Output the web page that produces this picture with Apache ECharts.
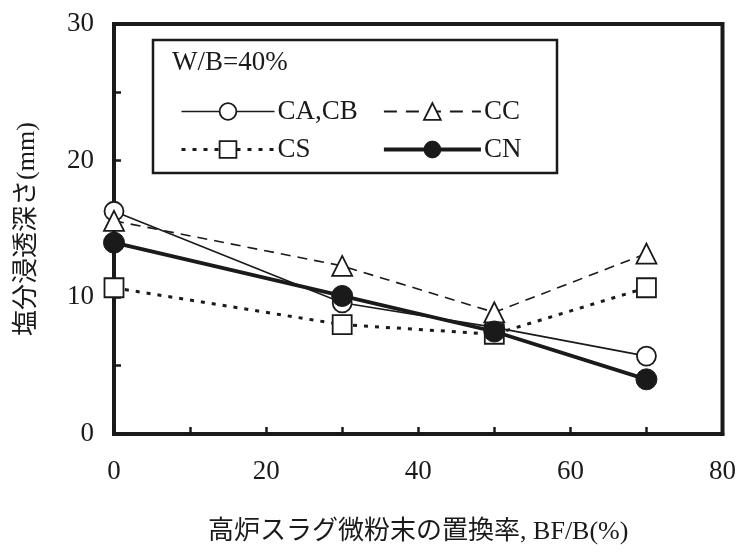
<!DOCTYPE html>
<html>
<head>
<meta charset="utf-8">
<script src="https://cdn.jsdelivr.net/npm/echarts@6/dist/echarts.min.js"></script>
<style>html,body{margin:0;padding:0;background:#fff}#c{width:739px;height:552px}</style>
</head>
<body>
<div id="c"></div>
<script>
const xValues = [0, 30, 50, 70];
const seriesNames = ['CA,CB', 'CC', 'CS', 'CN'];
const caCb = [16.3, 9.6, 7.8, 5.7];
const cc = [15.6, 12.3, 8.9, 13.2];
const cs = [10.7, 8.0, 7.3, 10.7];
const cn = [14.0, 10.1, 7.5, 4.0];
const xTickLabels = [0, 20, 40, 60, 80];
const yTickLabels = [0, 10, 20, 30];
const legendTitle = 'W/B=40%';
const xTitle = '高炉スラグ微粉末の置換率, BF/B(%)';
const yTitle = '塩分浸透深さ(mm)';

const FONT = '"Liberation Serif", "Times New Roman", "Noto Sans CJK JP", serif';
const INK = '#1a1a1a';
const pairs = v => xValues.map((x, i) => [x, v[i]]);

const styles = {
  'CA,CB': { line: { color: INK, width: 1.6, type: 'solid' }, item: { color: '#fff', borderColor: INK, borderWidth: 1.8 } },
  'CC': { line: { color: INK, width: 1.6, type: [10, 7] }, item: { color: '#fff', borderColor: INK, borderWidth: 1.8 } },
  'CS': { line: { color: INK, width: 3, type: [4, 7] }, item: { color: '#fff', borderColor: INK, borderWidth: 1.8 } },
  'CN': { line: { color: INK, width: 3.8, type: 'solid' }, item: { color: INK, borderColor: INK, borderWidth: 1 } }
};
const legendDash = { 'CC': [13, 9] };
const legendItem = n => ({ name: n,
  lineStyle: Object.assign({}, styles[n].line, legendDash[n] ? { type: legendDash[n], width: 2 } : {}),
  itemStyle: styles[n].item });

const chart = echarts.init(document.getElementById('c'));
chart.setOption({
  animation: false,
  backgroundColor: '#fff',
  grid: { left: 114, right: 15, top: 24, bottom: 118, show: true, borderColor: INK, borderWidth: 4, backgroundColor: 'transparent' },
  xAxis: {
    type: 'value', min: 0, max: 80, interval: 10,
    axisLine: { show: true, lineStyle: { color: INK, width: 4 } },
    axisTick: { show: true, inside: true, length: 7, lineStyle: { color: INK, width: 2.5 } },
    splitLine: { show: false },
    axisLabel: { color: INK, fontFamily: FONT, fontSize: 27, margin: 24,
      formatter: v => xTickLabels.indexOf(v) >= 0 ? String(v) : '' },
    name: xTitle, nameLocation: 'middle', nameGap: 85,
    nameTextStyle: { color: INK, fontFamily: FONT, fontSize: 26 }
  },
  yAxis: {
    type: 'value', min: 0, max: 30, interval: 5,
    axisLine: { show: true, lineStyle: { color: INK, width: 4 } },
    axisTick: { show: true, inside: true, length: 7, lineStyle: { color: INK, width: 2.5 } },
    splitLine: { show: false },
    axisLabel: { color: INK, fontFamily: FONT, fontSize: 27, margin: 20,
      formatter: v => yTickLabels.indexOf(v) >= 0 ? String(v) : '' },
    name: yTitle, nameLocation: 'middle', nameGap: 74, nameRotate: 90,
    nameTextStyle: { color: INK, fontFamily: FONT, fontSize: 26 }
  },
  legend: [
    { data: ['CA,CB', 'CS'].map(legendItem), orient: 'vertical', left: 175, top: 93, itemWidth: 93, itemHeight: 21, itemGap: 11,
      textStyle: { color: INK, fontFamily: FONT, fontSize: 27, padding: [0, 0, 0, -2] }, selectedMode: false },
    { data: ['CC', 'CN'].map(legendItem), orient: 'vertical', left: 377, top: 93, itemWidth: 97, itemHeight: 21, itemGap: 11,
      textStyle: { color: INK, fontFamily: FONT, fontSize: 27, padding: [0, 0, 0, -2] }, selectedMode: false }
  ],
  graphic: [
    { type: 'rect', shape: { x: 153, y: 40, width: 404, height: 133 }, style: { fill: '#fff', stroke: INK, lineWidth: 2.5 }, z: 0, zlevel: 0 },
    { type: 'text', left: 172, top: 49, style: { text: legendTitle, font: '27px ' + FONT, fill: INK }, z: 1 }
  ],
  series: [
    { name: seriesNames[0], type: 'line', data: pairs(caCb), symbol: 'circle', symbolSize: 19,
      lineStyle: styles['CA,CB'].line, itemStyle: styles['CA,CB'].item, z: 3 },
    { name: seriesNames[1], type: 'line', data: pairs(cc), symbol: 'triangle', symbolSize: 20,
      lineStyle: styles['CC'].line, itemStyle: styles['CC'].item, z: 3 },
    { name: seriesNames[2], type: 'line', data: pairs(cs), symbol: 'rect', symbolSize: 19,
      lineStyle: styles['CS'].line, itemStyle: styles['CS'].item, z: 3 },
    { name: seriesNames[3], type: 'line', data: pairs(cn), symbol: 'circle', symbolSize: 21,
      lineStyle: styles['CN'].line, itemStyle: styles['CN'].item, z: 4 }
  ]
});
</script>
</body>
</html>
